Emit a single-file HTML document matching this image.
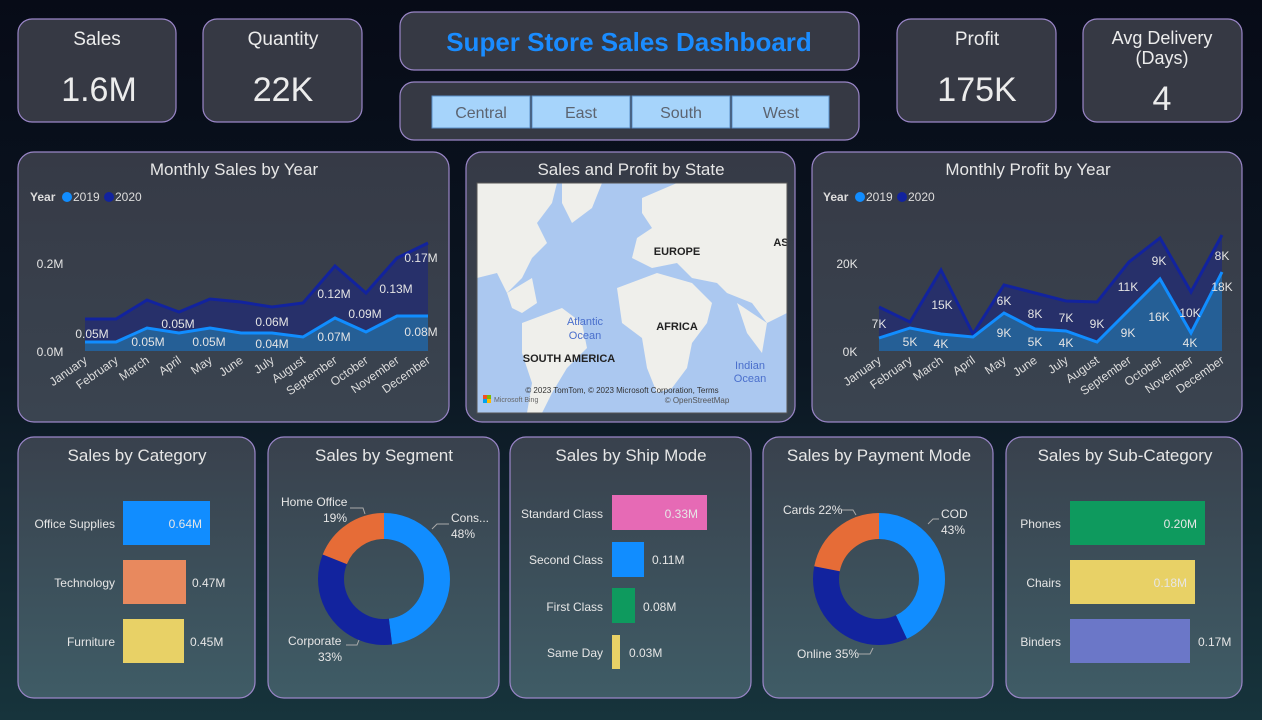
<!DOCTYPE html>
<html><head><meta charset="utf-8"><style>
html,body{margin:0;padding:0;width:1262px;height:720px;overflow:hidden;background:#0a0f1c}
svg{display:block;font-family:"Liberation Sans",sans-serif}
</style></head><body>
<svg width="1262" height="720" viewBox="0 0 1262 720">
<defs>
<linearGradient id="bg" x1="0" y1="0" x2="0" y2="1"><stop offset="0" stop-color="#070b17"/><stop offset="0.5" stop-color="#0b1622"/><stop offset="1" stop-color="#17343c"/></linearGradient>
<linearGradient id="cb" x1="0" y1="0" x2="0" y2="1"><stop offset="0" stop-color="#39414d"/><stop offset="1" stop-color="#3f5c66"/></linearGradient>
<linearGradient id="cm" x1="0" y1="0" x2="0" y2="1"><stop offset="0" stop-color="#363a46"/><stop offset="1" stop-color="#3a4450"/></linearGradient>
</defs>
<rect width="1262" height="720" fill="url(#bg)"/>
<g stroke="#9a86c8" stroke-width="1.2">
<rect x="18" y="19" width="158" height="103" rx="14" fill="#363944"/>
<rect x="203" y="19" width="159" height="103" rx="14" fill="#363944"/>
<rect x="400" y="12" width="459" height="58" rx="14" fill="#363944"/>
<rect x="400" y="82" width="459" height="58" rx="14" fill="#363944"/>
<rect x="897" y="19" width="159" height="103" rx="14" fill="#363944"/>
<rect x="1083" y="19" width="159" height="103" rx="14" fill="#363944"/>
<rect x="18" y="152" width="431" height="270" rx="16" fill="url(#cm)"/>
<rect x="466" y="152" width="329" height="270" rx="16" fill="url(#cm)"/>
<rect x="812" y="152" width="430" height="270" rx="16" fill="url(#cm)"/>
<rect x="18" y="437" width="237" height="261" rx="16" fill="url(#cb)"/>
<rect x="268" y="437" width="231" height="261" rx="16" fill="url(#cb)"/>
<rect x="510" y="437" width="241" height="261" rx="16" fill="url(#cb)"/>
<rect x="763" y="437" width="230" height="261" rx="16" fill="url(#cb)"/>
<rect x="1006" y="437" width="236" height="261" rx="16" fill="url(#cb)"/>
</g>
<g fill="#ececec" text-anchor="middle">
<text x="97" y="45" font-size="19">Sales</text>
<text x="99" y="101" font-size="34">1.6M</text>
<text x="283" y="45" font-size="19">Quantity</text>
<text x="283" y="101" font-size="34">22K</text>
<text x="977" y="45" font-size="19">Profit</text>
<text x="977" y="101" font-size="34">175K</text>
<text x="1162" y="44" font-size="18">Avg Delivery</text>
<text x="1162" y="64" font-size="18">(Days)</text>
<text x="1162" y="110" font-size="34">4</text>
</g>
<text x="629" y="51" text-anchor="middle" font-size="26" font-weight="bold" fill="#1a8cff">Super Store Sales Dashboard</text>
<g fill="#a6d4fb" stroke="#5a8fc8"><rect x="432" y="96" width="98" height="32"/><rect x="532" y="96" width="98" height="32"/><rect x="632" y="96" width="98" height="32"/><rect x="732" y="96" width="97" height="32"/></g>
<g fill="#5c6470" font-size="16" text-anchor="middle"><text x="481" y="118">Central</text><text x="581" y="118">East</text><text x="681" y="118">South</text><text x="781" y="118">West</text></g>
<g fill="#e6e6e6" font-size="17" text-anchor="middle">
<text x="234" y="175">Monthly Sales by Year</text><text x="631" y="175">Sales and Profit by State</text><text x="1028" y="175">Monthly Profit by Year</text>
<text x="137" y="461">Sales by Category</text><text x="384" y="461">Sales by Segment</text><text x="631" y="461">Sales by Ship Mode</text><text x="879" y="461">Sales by Payment Mode</text><text x="1125" y="461">Sales by Sub-Category</text>
</g>
<!-- legends -->
<g font-size="12" fill="#ddd"><text x="30" y="201" font-weight="bold">Year</text><circle cx="67" cy="197" r="5" fill="#118dff"/><text x="73" y="201">2019</text><circle cx="109" cy="197" r="5" fill="#12239e"/><text x="115" y="201">2020</text>
<text x="823" y="201" font-weight="bold">Year</text><circle cx="860" cy="197" r="5" fill="#118dff"/><text x="866" y="201">2019</text><circle cx="902" cy="197" r="5" fill="#12239e"/><text x="908" y="201">2020</text></g>
<!-- sales chart -->
<polygon points="85,351 85,319 116,319 147,300 179,312 210,299 241,302 272,307 303,303 335,266 366,293 397,258 428,243 428,351" fill="#27306a"/>
<polygon points="85,351 85,342 116,342 147,328 179,333 210,328 241,333 272,333 303,337 335,318 366,332 397,316 428,316 428,351" fill="#255f96"/>
<polyline points="85,319 116,319 147,300 179,312 210,299 241,302 272,307 303,303 335,266 366,293 397,258 428,243" fill="none" stroke="#12239e" stroke-width="3"/>
<polyline points="85,342 116,342 147,328 179,333 210,328 241,333 272,333 303,337 335,318 366,332 397,316 428,316" fill="none" stroke="#118dff" stroke-width="3"/>
<g font-size="12" fill="#e4e4e4" text-anchor="middle">
<text x="92" y="338">0.05M</text><text x="148" y="346">0.05M</text><text x="178" y="328">0.05M</text><text x="209" y="346">0.05M</text><text x="272" y="326">0.06M</text><text x="272" y="348">0.04M</text><text x="334" y="298">0.12M</text><text x="334" y="341">0.07M</text><text x="365" y="318">0.09M</text><text x="396" y="293">0.13M</text><text x="421" y="262">0.17M</text><text x="421" y="336">0.08M</text>
<text x="50" y="268">0.2M</text><text x="50" y="356">0.0M</text>
</g>
<g font-size="12" fill="#ddd" text-anchor="end">
<text transform="translate(88,362) rotate(-35)">January</text><text transform="translate(119,362) rotate(-35)">February</text><text transform="translate(150,362) rotate(-35)">March</text><text transform="translate(182,362) rotate(-35)">April</text><text transform="translate(213,362) rotate(-35)">May</text><text transform="translate(244,362) rotate(-35)">June</text><text transform="translate(275,362) rotate(-35)">July</text><text transform="translate(306,362) rotate(-35)">August</text><text transform="translate(338,362) rotate(-35)">September</text><text transform="translate(369,362) rotate(-35)">October</text><text transform="translate(400,362) rotate(-35)">November</text><text transform="translate(431,362) rotate(-35)">December</text>
</g>
<!-- profit chart -->
<polygon points="879,351 879,307 910,322 941,270 973,334 1004,285 1035,293 1066,301 1097,302 1129,262 1160,238 1191,292 1222,235 1222,351" fill="#27306a"/>
<polygon points="879,351 879,338 910,328 941,334 973,337 1004,313 1035,329 1066,331 1097,342 1129,310 1160,279 1191,333 1222,272 1222,351" fill="#255f96"/>
<polyline points="879,307 910,322 941,270 973,334 1004,285 1035,293 1066,301 1097,302 1129,262 1160,238 1191,292 1222,235" fill="none" stroke="#12239e" stroke-width="3"/>
<polyline points="879,338 910,328 941,334 973,337 1004,313 1035,329 1066,331 1097,342 1129,310 1160,279 1191,333 1222,272" fill="none" stroke="#118dff" stroke-width="3"/>
<g font-size="12" fill="#e4e4e4" text-anchor="middle">
<text x="879" y="328">7K</text><text x="910" y="346">5K</text><text x="942" y="309">15K</text><text x="941" y="348">4K</text><text x="1004" y="305">6K</text><text x="1004" y="337">9K</text><text x="1035" y="318">8K</text><text x="1035" y="346">5K</text><text x="1066" y="322">7K</text><text x="1066" y="347">4K</text><text x="1097" y="328">9K</text><text x="1128" y="291">11K</text><text x="1128" y="337">9K</text><text x="1159" y="265">9K</text><text x="1159" y="321">16K</text><text x="1190" y="317">10K</text><text x="1190" y="347">4K</text><text x="1222" y="260">8K</text><text x="1222" y="291">18K</text>
<text x="847" y="268">20K</text><text x="850" y="356">0K</text>
</g>
<g font-size="12" fill="#ddd" text-anchor="end">
<text transform="translate(882,362) rotate(-35)">January</text><text transform="translate(913,362) rotate(-35)">February</text><text transform="translate(944,362) rotate(-35)">March</text><text transform="translate(976,362) rotate(-35)">April</text><text transform="translate(1007,362) rotate(-35)">May</text><text transform="translate(1038,362) rotate(-35)">June</text><text transform="translate(1069,362) rotate(-35)">July</text><text transform="translate(1100,362) rotate(-35)">August</text><text transform="translate(1132,362) rotate(-35)">September</text><text transform="translate(1163,362) rotate(-35)">October</text><text transform="translate(1194,362) rotate(-35)">November</text><text transform="translate(1225,362) rotate(-35)">December</text>
</g>
<!-- map -->
<svg x="477" y="183" width="310" height="230" viewBox="0 0 310 230">
<rect width="310" height="230" fill="#abc8f0"/>
<g fill="#efefeb">
<path d="M0,0 L80,0 L75,20 L60,40 L70,60 L55,75 L45,95 L30,110 L20,90 L0,95 Z"/>
<path d="M85,0 L125,0 L115,25 L95,40 L85,20 Z"/>
<path d="M30,110 L55,95 L60,120 L45,130 L35,125 Z"/>
<path d="M45,140 L85,125 L105,140 L110,165 L90,185 L75,210 L65,230 L50,230 L55,200 L45,170 Z"/>
<path d="M165,15 L200,0 L310,0 L310,130 L290,140 L275,120 L250,110 L240,100 L215,95 L200,80 L175,85 L155,75 L160,55 L175,45 L165,30 Z"/>
<path d="M140,105 L180,90 L215,100 L235,120 L230,140 L215,160 L210,185 L195,205 L180,210 L170,185 L165,155 L145,140 Z"/>
<path d="M260,120 L290,140 L285,170 L270,150 Z"/>
</g>
<g font-size="11" font-weight="bold" fill="#222" text-anchor="middle"><text x="200" y="72">EUROPE</text><text x="200" y="147">AFRICA</text><text x="92" y="179">SOUTH AMERICA</text><text x="304" y="63">AS</text></g>
<g font-size="11" fill="#4a6fcc" text-anchor="middle"><text x="108" y="142">Atlantic</text><text x="108" y="156">Ocean</text><text x="273" y="186">Indian</text><text x="273" y="199">Ocean</text></g>
<text x="145" y="210" font-size="8" fill="#333" text-anchor="middle">© 2023 TomTom, © 2023 Microsoft Corporation,  Terms</text>
<text x="220" y="220" font-size="8" fill="#555" text-anchor="middle">© OpenStreetMap</text>
<rect x="6" y="212" width="4" height="4" fill="#f25022"/><rect x="10" y="212" width="4" height="4" fill="#7fba00"/><rect x="6" y="216" width="4" height="4" fill="#00a4ef"/><rect x="10" y="216" width="4" height="4" fill="#ffb900"/>
<text x="17" y="219" font-size="7" fill="#666">Microsoft Bing</text>
</svg>
<rect x="477" y="183" width="310" height="230" fill="none" stroke="#555" stroke-width="1"/>
<!-- category -->
<rect x="123" y="501" width="87" height="44" fill="#118dff"/><rect x="123" y="560" width="63" height="44" fill="#e8895e"/><rect x="123" y="619" width="61" height="44" fill="#e8d166"/>
<g font-size="12" fill="#e6e6e6"><text x="115" y="528" text-anchor="end">Office Supplies</text><text x="115" y="587" text-anchor="end">Technology</text><text x="115" y="646" text-anchor="end">Furniture</text>
<text x="202" y="528" text-anchor="end">0.64M</text><text x="192" y="587">0.47M</text><text x="190" y="646">0.45M</text></g>
<!-- segment donut -->
<g transform="translate(384,579) rotate(-90)" fill="none" stroke-width="26">
<circle r="53" stroke="#118dff" stroke-dasharray="159.8 400"/>
<circle r="53" stroke="#12239e" stroke-dasharray="109.9 400" stroke-dashoffset="-159.8"/>
<circle r="53" stroke="#e66c37" stroke-dasharray="63.3 400" stroke-dashoffset="-269.7"/>
</g>
<g font-size="12" fill="#e6e6e6"><text x="281" y="506">Home Office</text><text x="323" y="522">19%</text><text x="451" y="522">Cons...</text><text x="451" y="538">48%</text><text x="288" y="645">Corporate</text><text x="318" y="661">33%</text></g>
<g stroke="#aaa" fill="none"><polyline points="350,508 363,508 365,514"/><polyline points="432,529 437,524 449,524"/><polyline points="346,645 357,645 359,640"/></g>
<!-- ship mode -->
<rect x="612" y="495" width="95" height="35" fill="#e66ab5"/><rect x="612" y="542" width="32" height="35" fill="#118dff"/><rect x="612" y="588" width="23" height="35" fill="#0e9a5e"/><rect x="612" y="635" width="8" height="34" fill="#e8d166"/>
<g font-size="12" fill="#e6e6e6"><g text-anchor="end"><text x="603" y="518">Standard Class</text><text x="603" y="564">Second Class</text><text x="603" y="611">First Class</text><text x="603" y="657">Same Day</text><text x="698" y="518">0.33M</text></g>
<text x="652" y="564">0.11M</text><text x="643" y="611">0.08M</text><text x="629" y="657">0.03M</text></g>
<!-- payment donut -->
<g transform="translate(879,579) rotate(-90)" fill="none" stroke-width="26">
<circle r="53" stroke="#118dff" stroke-dasharray="143.2 400"/>
<circle r="53" stroke="#12239e" stroke-dasharray="116.6 400" stroke-dashoffset="-143.2"/>
<circle r="53" stroke="#e66c37" stroke-dasharray="73.3 400" stroke-dashoffset="-259.8"/>
</g>
<g font-size="12" fill="#e6e6e6"><text x="783" y="514">Cards 22%</text><text x="941" y="518">COD</text><text x="941" y="534">43%</text><text x="797" y="658">Online 35%</text></g>
<g stroke="#aaa" fill="none"><polyline points="842,510 853,510 856,515"/><polyline points="928,524 933,519 939,519"/><polyline points="858,654 870,654 873,648"/></g>
<!-- sub-category -->
<rect x="1070" y="501" width="135" height="44" fill="#0e9a5e"/><rect x="1070" y="560" width="125" height="44" fill="#e8d166"/><rect x="1070" y="619" width="120" height="44" fill="#6b77c8"/>
<g font-size="12" fill="#e6e6e6"><g text-anchor="end"><text x="1061" y="528">Phones</text><text x="1061" y="587">Chairs</text><text x="1061" y="646">Binders</text><text x="1197" y="528">0.20M</text><text x="1187" y="587">0.18M</text></g><text x="1198" y="646">0.17M</text></g>
</svg>
</body></html>
